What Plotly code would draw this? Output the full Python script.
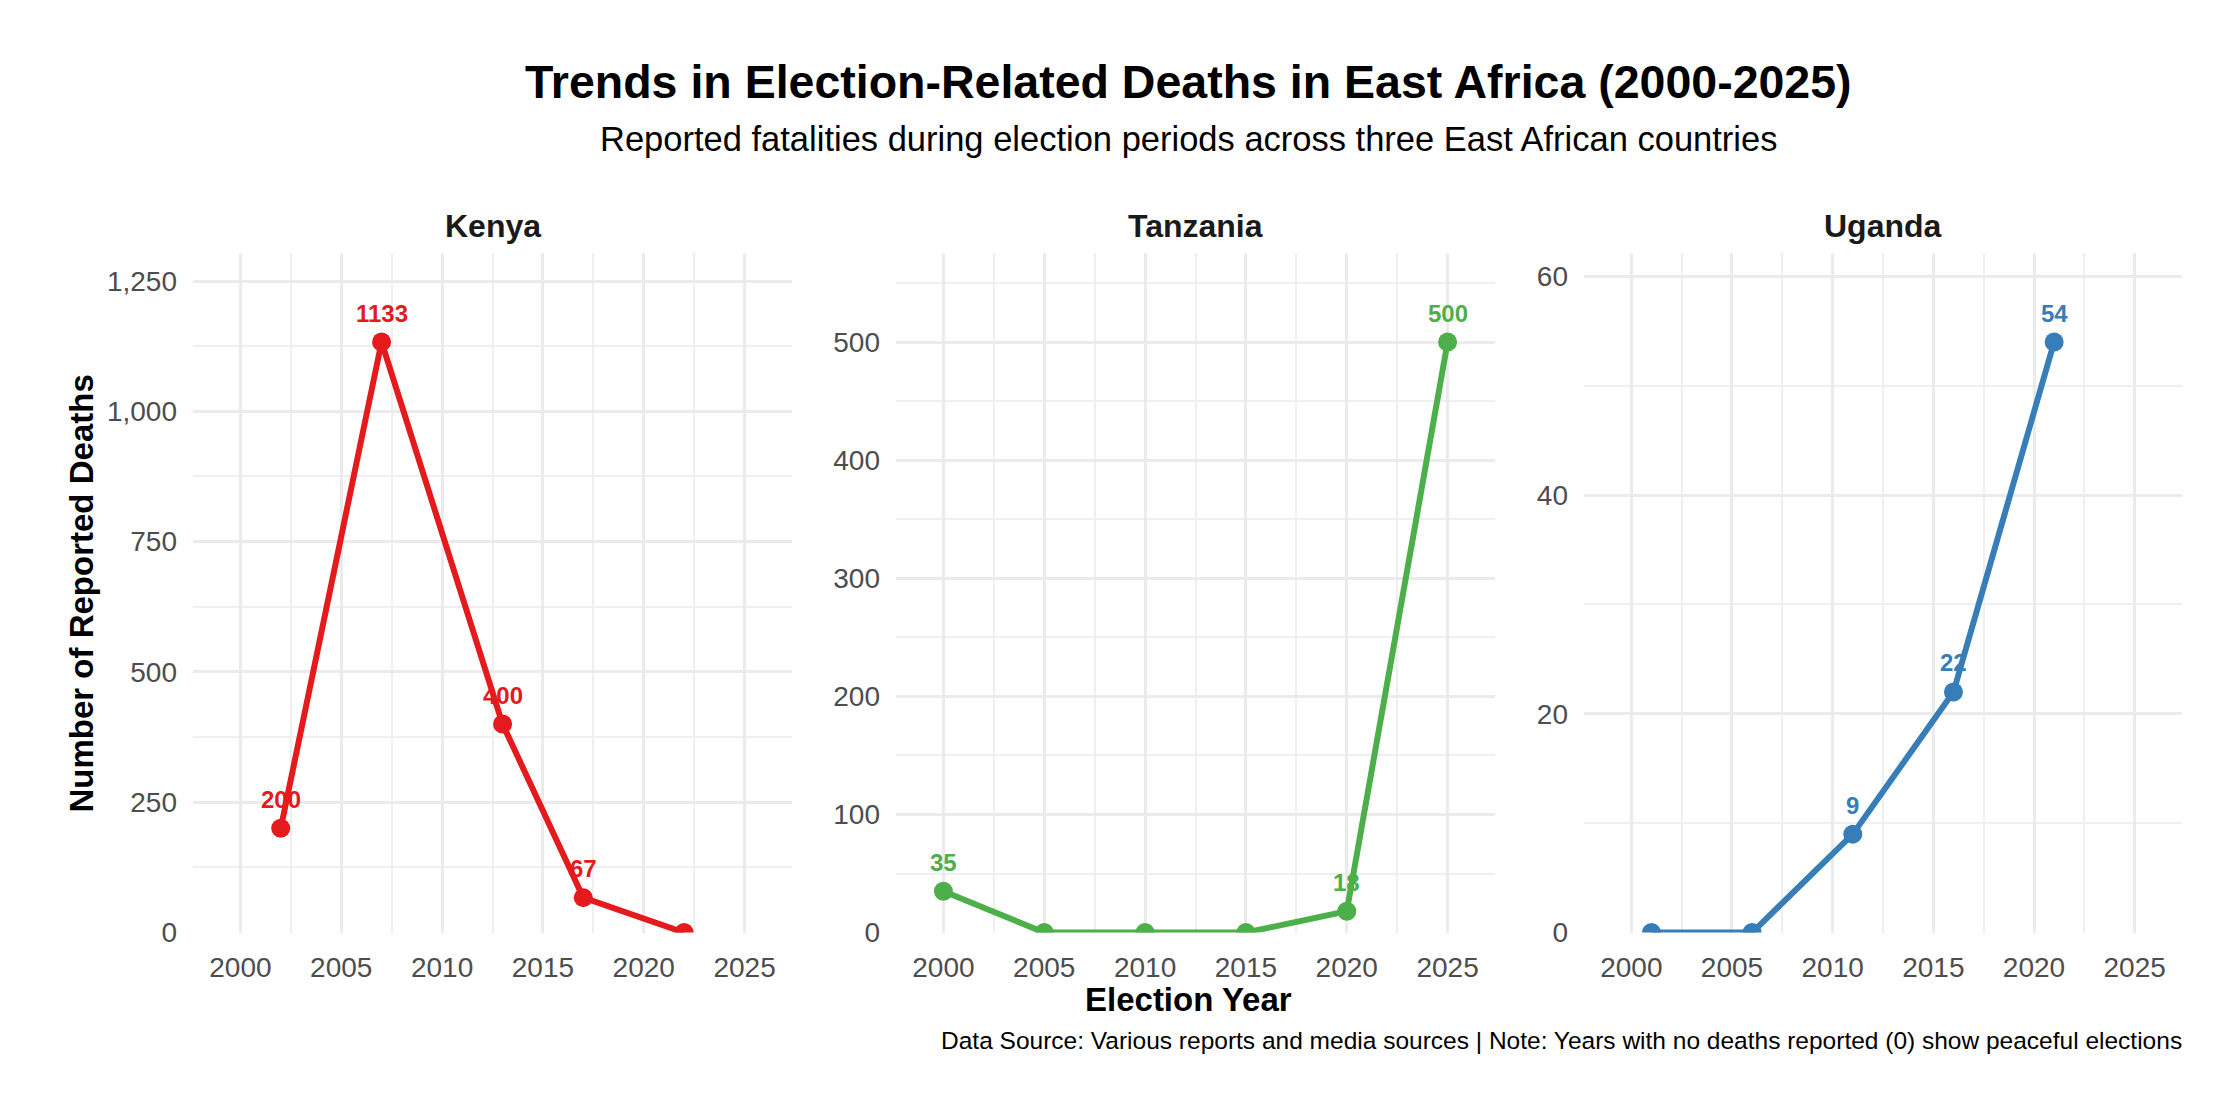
import plotly.graph_objects as go
from plotly.subplots import make_subplots

# election data per country
kenya_years = [2002, 2007, 2013, 2017, 2022]
kenya_deaths = [200, 1133, 400, 67, 0]

tanzania_years = [2000, 2005, 2010, 2015, 2020, 2025]
tanzania_deaths = [35, 0, 0, 0, 18, 500]

uganda_years = [2001, 2006, 2011, 2016, 2021]
uganda_deaths = [0, 0, 9, 22, 54]

countries = ['Kenya', 'Tanzania', 'Uganda']
colors = ['#E41A1C', '#4DAF4A', '#377EB8']
year_ticks = [2000, 2005, 2010, 2015, 2020, 2025]

W, H = 2232, 1116
FONT = 'Liberation Sans, Arial, sans-serif'

series = [
    (kenya_years, kenya_deaths),
    (tanzania_years, tanzania_deaths),
    (uganda_years, uganda_deaths),
]
x_domains = [(185, 784), (888, 1487), (1576, 2174)]
y_dticks = [250, 100, 20]
panel_top, panel_bottom = 249, 938

fig = make_subplots(rows=1, cols=3)

for i, (years, deaths) in enumerate(series):
    fig.add_trace(go.Scatter(
        x=years, y=deaths, mode='lines+markers',
        line=dict(color=colors[i], width=6),
        marker=dict(color=colors[i], size=19),
        showlegend=False,
    ), row=1, col=i + 1)

    sfx = str(i + 1) if i else ''

    # value labels above non-zero points
    for yr, d in zip(years, deaths):
        if d > 0:
            fig.add_annotation(
                x=yr, y=d, xref='x' + sfx, yref='y' + sfx,
                text=str(d), showarrow=False, yshift=29,
                xanchor='center', yanchor='middle',
                font=dict(family=FONT, size=24, color=colors[i], weight='bold'),
            )

    d0, d1 = x_domains[i]
    fig.layout['xaxis' + sfx].update(
        domain=[d0 / W, d1 / W], range=[1997.65, 2027.35],
        tickmode='array', tickvals=year_ticks,
        showgrid=True, gridcolor='#EBEBEB', gridwidth=2.5,
        minor=dict(dtick=2.5, tick0=2000, showgrid=True, gridcolor='#EFEFEF', gridwidth=1.5),
        zeroline=False, showline=False, ticks='',
        tickfont=dict(family=FONT, size=28, color='#4D4D4D'),
        ticklabelstandoff=15,
    )
    fig.layout['yaxis' + sfx].update(
        domain=[1 - panel_bottom / H, 1 - panel_top / H],
        range=[0, max(deaths) * 1.15],
        tickmode='linear', tick0=0, dtick=y_dticks[i], tickformat=',',
        showgrid=True, gridcolor='#EBEBEB', gridwidth=2.5,
        minor=dict(dtick=y_dticks[i] / 2, tick0=0, showgrid=True, gridcolor='#EFEFEF', gridwidth=1.5),
        zeroline=False, showline=False, ticks='',
        tickfont=dict(family=FONT, size=28, color='#4D4D4D'),
        ticklabelstandoff=15,
    )

    # facet strip title
    fig.add_annotation(
        x=(d0 + d1) / 2 / W, y=1 - 221 / H, xref='paper', yref='paper',
        text=countries[i], showarrow=False, xanchor='center', yanchor='middle',
        font=dict(family=FONT, size=32, color='#1A1A1A', weight='bold'),
    )

fig.add_annotation(
    x=1180 / W, y=1 - 75 / H, xref='paper', yref='paper',
    text='Trends in Election-Related Deaths in East Africa (2000-2025)',
    showarrow=False, xanchor='center', yanchor='middle',
    font=dict(family=FONT, size=46.5, color='black', weight='bold'),
)
fig.add_annotation(
    x=1180 / W, y=1 - 133 / H, xref='paper', yref='paper',
    text='Reported fatalities during election periods across three East African countries',
    showarrow=False, xanchor='center', yanchor='middle',
    font=dict(family=FONT, size=34.5, color='black'),
)
fig.add_annotation(
    x=1180 / W, y=1 - 1006 / H, xref='paper', yref='paper',
    text='Election Year', showarrow=False, xanchor='center', yanchor='middle',
    font=dict(family=FONT, size=33, color='black', weight='bold'),
)
fig.add_annotation(
    x=73 / W, y=1 - 594 / H, xref='paper', yref='paper',
    text='Number of Reported Deaths', showarrow=False, textangle=-90,
    xanchor='center', yanchor='middle',
    font=dict(family=FONT, size=33, color='black', weight='bold'),
)
fig.add_annotation(
    x=2176 / W, y=1 - 1048 / H, xref='paper', yref='paper',
    text='Data Source: Various reports and media sources | Note: Years with no deaths reported (0) show peaceful elections',
    showarrow=False, xanchor='right', yanchor='middle',
    font=dict(family=FONT, size=24.5, color='black'),
)

fig.update_layout(
    width=W, height=H,
    margin=dict(l=0, r=0, t=0, b=0),
    paper_bgcolor='white', plot_bgcolor='white',
    font=dict(family=FONT),
)

fig.write_html('out.html')
